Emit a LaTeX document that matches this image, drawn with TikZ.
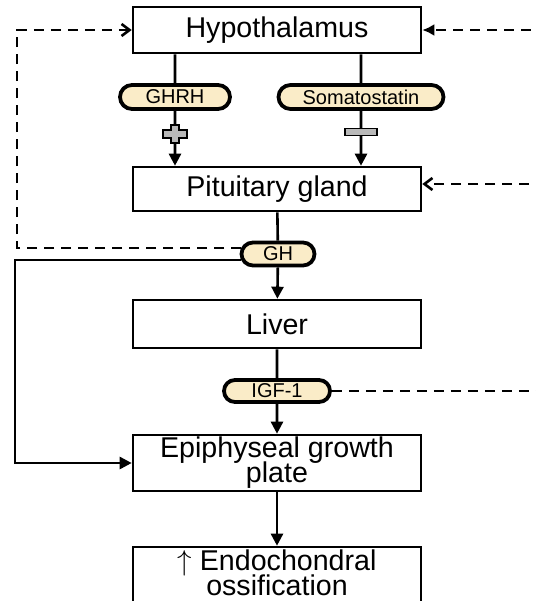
\documentclass[tikz,border=0pt]{standalone}
\usepackage{fontspec}
\setmainfont{Liberation Sans}
\usetikzlibrary{arrows.meta,shapes.misc,calc}
\newcommand\boxfont{\fontsize{14.3}{11}\selectfont\lineskiplimit=-20pt\relax}

\begin{document}
\begin{tikzpicture}[
            x=0.5pt, y=-0.5pt,
            box/.style={rectangle, draw, line width=1.3pt, minimum width=144pt, text centered, align=center, inner sep=1pt, font=\boxfont},
            pill/.style={rounded rectangle, draw, line width=1.9pt, fill=pillfill, inner sep=1pt, font=\fontsize{10}{12}\selectfont},
            arrow/.style={-{Triangle[length=6pt,width=6pt]}, line width=1.3pt},
            fb/.style={line width=1.3pt, dash pattern=on 5pt off 3.5pt},
            sign/.style={fill=gray!55, draw, line width=0.8pt}
        ]
            \definecolor{pillfill}{RGB}{250,236,200}
            \useasboundingbox (0,0) rectangle (536,601);

            % Organs
            \node[box, minimum height=23pt] (hyp) at (277,30) {Hypothalamus};
            \node[box, minimum height=22pt] (pit) at (277,189) {Pituitary gland};
            \node[box, minimum height=24pt] (liver) at (277,324) {Liver};
            \node[box, minimum height=28pt] (epi) at (277,463) {Epiphyseal growth\\[1.5pt]plate};
            \node[box, minimum height=29pt] (endo) at (277,576) {$\uparrow$ Endochondral\\[1.5pt]ossification\\[-8pt]\mbox{}};

            % Hormones
            \node[pill, minimum width=57pt, minimum height=12pt] (ghrh) at (175,97) {GHRH};
            \node[pill, minimum width=84.5pt, minimum height=12pt] (som) at (361,97) {Somatostatin};
            \node[pill, minimum width=38.5pt, minimum height=11.5pt] (gh) at (278,254) {GH};
            \node[pill, minimum width=55pt, minimum height=11pt] (igf) at (277,391) {IGF-1};

            % Feedback corners
            \coordinate (fbl) at (17,0);
            \coordinate (ghl) at (15,0);
            \coordinate (fbr) at (548,391);

            % Axis
            \draw[line width=1.3pt] (hyp.south -| ghrh) -- (ghrh);
            \draw[arrow] (ghrh) -- (ghrh |- pit.north);
            \draw[line width=1.3pt] (hyp.south -| som) -- (som);
            \draw[arrow] (som) -- (som |- pit.north);
            \draw[line width=1.3pt] (pit) -- (gh);
            \draw[arrow] (gh) -- (liver);
            \draw[line width=1.3pt] (liver) -- (igf);
            \draw[arrow] (igf) -- (epi);
            \draw[arrow] (epi) -- (endo);

            % Stimulation and inhibition
            \filldraw[sign] (ghrh |- 0,134) ++(-12,-4) -- ++(8,0) -- ++(0,-5) -- ++(8,0) -- ++(0,5) -- ++(8,0) -- ++(0,8) -- ++(-8,0) -- ++(0,5) -- ++(-8,0) -- ++(0,-5) -- ++(-8,0) -- cycle;
            \filldraw[sign] (som |- 0,132) ++(-16,-3.5) rectangle ++(32,7);

            % GH direct action
            \draw[arrow] ([yshift=-3pt,xshift=0.8pt]gh.west) -| (ghl |- epi.west) -- (epi.west);

            % Feedback loops
            \draw[fb, -{Straight Barb[length=4pt,width=6pt]}] ([yshift=3pt,xshift=0.8pt]gh.west) -| (fbl |- hyp.west) -- (hyp.west);
            \draw[fb, -{Straight Barb[length=4pt,width=6pt]}] (igf.east) -- (fbr) |- ([yshift=2.5pt]pit.east);
            \draw[fb, -{Latex[length=6pt,width=6pt]}] (fbr |- pit.north) |- (hyp.east);

        \end{tikzpicture}
\end{document}
